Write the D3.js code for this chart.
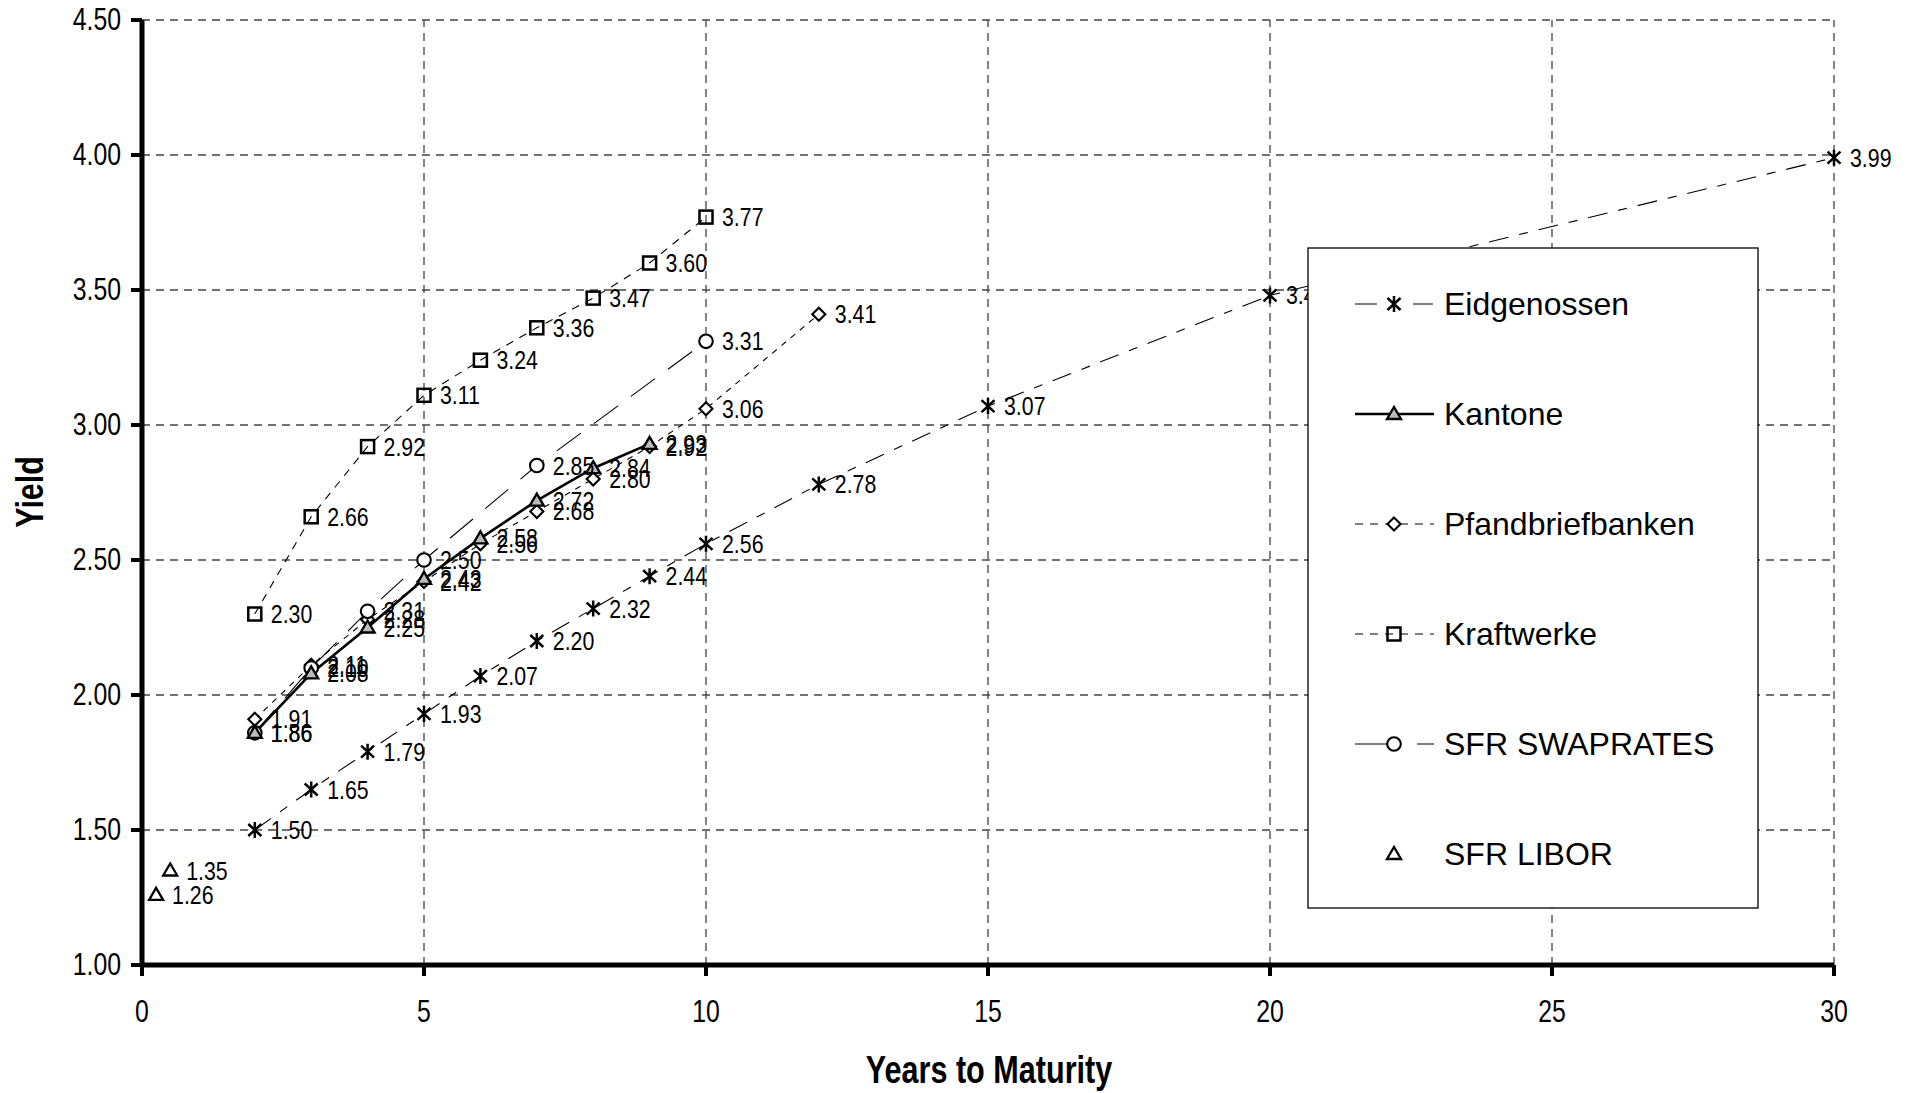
<!DOCTYPE html>
<html><head><meta charset="utf-8">
<script src="https://cdn.jsdelivr.net/npm/d3@7"></script>
<style>
body{margin:0;background:#fff;}
svg{display:block;}
text{font-family:"Liberation Sans",Arial,sans-serif;}
</style></head><body>
<svg id="c" width="1917" height="1093"></svg>
<script>
// ---- data ----
const eidX = [2,3,4,5,6,7,8,9,10,12,15,20,30];
const eidY = [1.50,1.65,1.79,1.93,2.07,2.20,2.32,2.44,2.56,2.78,3.07,3.48,3.99];
const kanX = [2,3,4,5,6,7,8,9];
const kanY = [1.86,2.08,2.25,2.43,2.58,2.72,2.84,2.93];
const pfaX = [2,3,4,5,6,7,8,9,10,12];
const pfaY = [1.91,2.11,2.28,2.42,2.56,2.68,2.80,2.92,3.06,3.41];
const kraX = [2,3,4,5,6,7,8,9,10];
const kraY = [2.30,2.66,2.92,3.11,3.24,3.36,3.47,3.60,3.77];
const swpX = [2,3,4,5,7,10];
const swpY = [1.86,2.10,2.31,2.50,2.85,3.31];
const libX = [0.25,0.5];
const libY = [1.26,1.35];
const xTicks = [0,5,10,15,20,25,30];
const yTicks = [1.0,1.5,2.0,2.5,3.0,3.5,4.0,4.5];
const seriesNames = ["Eidgenossen","Kantone","Pfandbriefbanken","Kraftwerke","SFR SWAPRATES","SFR LIBOR"];

const svg = d3.select("#c");
const x = d3.scaleLinear().domain([0,30]).range([142,1834]);
const y = d3.scaleLinear().domain([1,4.5]).range([965,20]);

// grid
const grid = svg.append("g");
grid.selectAll("line.h").data(yTicks.filter(v=>v>1)).enter().append("line")
  .attr("x1",x(0)).attr("x2",x(30)).attr("y1",d=>y(d)).attr("y2",d=>y(d))
  .attr("stroke","#444").attr("stroke-width",1.3).attr("stroke-dasharray","8,6");
grid.selectAll("line.v").data(xTicks.filter(v=>v>0)).enter().append("line")
  .attr("y1",y(1)).attr("y2",y(4.5)).attr("x1",d=>x(d)).attr("x2",d=>x(d))
  .attr("stroke","#444").attr("stroke-width",1.3).attr("stroke-dasharray","8,6");

const series = [
  {name:seriesNames[0], xs:eidX, ys:eidY, dash:"20,11,9,11", w:1.1, sym:"ast"},
  {name:seriesNames[1], xs:kanX, ys:kanY, dash:null, w:2.6, sym:"tri", fill:"#bbb"},
  {name:seriesNames[2], xs:pfaX, ys:pfaY, dash:"6,6", w:1.1, sym:"dia"},
  {name:seriesNames[3], xs:kraX, ys:kraY, dash:"8,7", w:1.1, sym:"sq"},
  {name:seriesNames[4], xs:swpX, ys:swpY, dash:"30,16", w:1.1, sym:"cir"},
  {name:seriesNames[5], xs:libX, ys:libY, dash:"none", w:0, sym:"tri", fill:"#fff"}
];

function drawSym(g, s, cx, cy){
  const k = g.append("g").attr("transform",`translate(${cx},${cy})`);
  if(s.sym==="ast"){
    k.append("path").attr("d","M0,-8V8M-6.5,-6L6.5,6M-6.5,6L6.5,-6").attr("stroke","#000").attr("stroke-width",2.5).attr("fill","none");
  } else if(s.sym==="tri"){
    k.append("path").attr("d","M0,-7L7,5L-7,5Z").attr("stroke","#000").attr("stroke-width",2.3).attr("fill",s.fill||"#fff");
  } else if(s.sym==="dia"){
    k.append("path").attr("d","M0,-6.5L6.5,0L0,6.5L-6.5,0Z").attr("stroke","#000").attr("stroke-width",2.1).attr("fill","#fff");
  } else if(s.sym==="sq"){
    k.append("rect").attr("x",-6.5).attr("y",-6.5).attr("width",13).attr("height",13).attr("stroke","#000").attr("stroke-width",2.5).attr("fill","none");
  } else if(s.sym==="cir"){
    k.append("circle").attr("r",6.8).attr("stroke","#000").attr("stroke-width",2.1).attr("fill","#fff");
  }
}

const line = d3.line().x(d=>x(d[0])).y(d=>y(d[1]));
const order = [0,2,3,4,1,5];
order.forEach(i=>{
  const s = series[i];
  const pts = s.xs.map((v,j)=>[v,s.ys[j]]);
  if(s.w>0){
    svg.append("path").datum(pts).attr("d",line).attr("fill","none")
      .attr("stroke","#000").attr("stroke-width",s.w)
      .attr("stroke-dasharray",s.dash);
  }
});
order.forEach(i=>{
  const s = series[i];
  const g = svg.append("g");
  s.xs.forEach((v,j)=>drawSym(g,s,x(v),y(s.ys[j])));
});
order.forEach(i=>{
  const s = series[i];
  svg.append("g").selectAll("text").data(s.xs.map((v,j)=>[v,s.ys[j]])).enter().append("text")
    .attr("transform",d=>`translate(${x(d[0])+16},${y(d[1])+9}) scale(0.82,1)`)
    .attr("font-size",26).attr("fill","#000").text(d=>d[1].toFixed(2));
});

// axes
svg.append("line").attr("x1",x(0)).attr("x2",x(30)).attr("y1",y(1)).attr("y2",y(1)).attr("stroke","#000").attr("stroke-width",5);
svg.append("line").attr("x1",x(0)).attr("x2",x(0)).attr("y1",y(1)+2).attr("y2",y(4.5)).attr("stroke","#000").attr("stroke-width",5);
svg.append("g").selectAll("line").data(yTicks).enter().append("line")
  .attr("x1",x(0)-11).attr("x2",x(0)).attr("y1",d=>y(d)).attr("y2",d=>y(d)).attr("stroke","#000").attr("stroke-width",4);
svg.append("g").selectAll("line").data(xTicks).enter().append("line")
  .attr("y1",y(1)).attr("y2",y(1)+11).attr("x1",d=>x(d)).attr("x2",d=>x(d)).attr("stroke","#000").attr("stroke-width",4);
svg.append("g").selectAll("text").data(yTicks).enter().append("text")
  .attr("transform",d=>`translate(${x(0)-21},${y(d)+10}) scale(0.8,1)`).attr("text-anchor","end")
  .attr("font-size",31).text(d=>d.toFixed(2));
svg.append("g").selectAll("text").data(xTicks).enter().append("text")
  .attr("transform",d=>`translate(${x(d)},${y(1)+57}) scale(0.8,1)`).attr("text-anchor","middle")
  .attr("font-size",31).text(d=>d);
svg.append("text").attr("transform",`translate(${(x(0)+x(30))/2+1},1083) scale(0.805,1)`).attr("text-anchor","middle")
  .attr("font-size",38).attr("font-weight","bold").text("Years to Maturity");
svg.append("text").attr("transform",`translate(43,492) rotate(-90) scale(0.8,1)`).attr("text-anchor","middle")
  .attr("font-size",38).attr("font-weight","bold").text("Yield");

// legend
const lg = svg.append("g");
lg.append("rect").attr("x",1308).attr("y",248).attr("width",450).attr("height",660)
  .attr("fill","#fff").attr("stroke","#000").attr("stroke-width",1.3);
const legDash = ["22,14,0,22,20", null, "8,7", "8,7", "40,22", null];
series.forEach((s,i)=>{
  const cy = 304 + i*110;
  if(s.w>0){
    lg.append("line").attr("x1",1355).attr("x2",1434).attr("y1",cy).attr("y2",cy)
      .attr("stroke","#000").attr("stroke-width",s.w)
      .attr("stroke-dasharray", legDash[i]);
  }
  drawSym(lg,s,1394,cy);
  lg.append("text").attr("x",1444).attr("y",cy+11)
    .attr("font-size",32).text(s.name);
});
</script>
</body></html>
